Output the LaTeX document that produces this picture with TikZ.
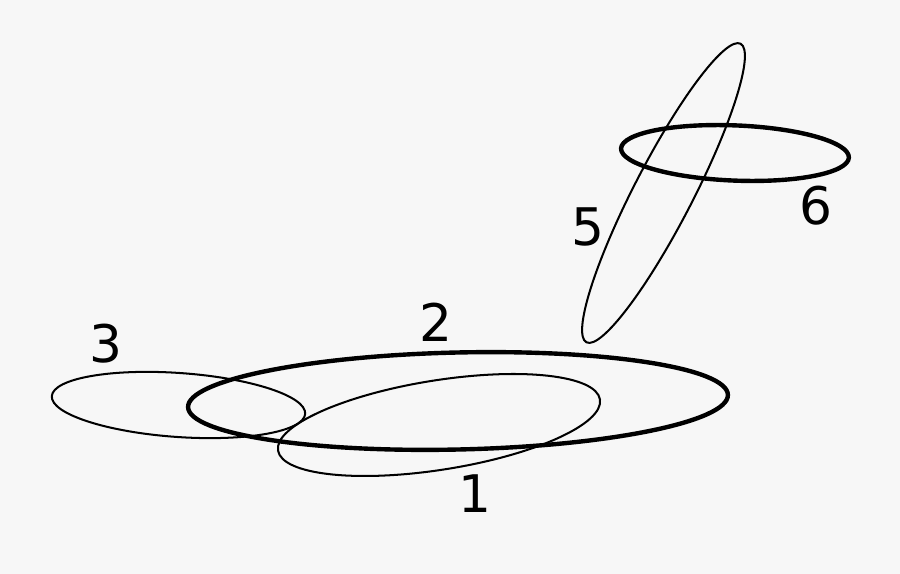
\documentclass[tikz,border=0pt]{standalone}
\usepackage{fontspec}
\setmainfont{DejaVu Sans}
\usepackage{tikz}
\usetikzlibrary{calc,positioning}

\definecolor{bgpaper}{HTML}{F7F7F7}

\begin{document}
\begin{tikzpicture}[line cap=round,line join=round,x=0.02cm,y=0.02cm,
  thinring/.style={draw=black,line width=1.15pt},
  thickring/.style={draw=black,line width=2.5pt},
  lbl/.style={inner sep=0pt,font=\fontsize{29.5}{30}\selectfont}]
\fill[bgpaper] (0,0) rectangle (900,574);
\useasboundingbox (0,0) rectangle (900,574);
% centres of the rings
\coordinate (c1) at (439,149);
\coordinate (c2) at (458,173);
\coordinate (c3) at (178.5,169);
\coordinate (c5) at (663.5,381);
\coordinate (c6) at (735,421);
% rings
\draw[thinring, rotate around={-4:(c3)}] (c3) ellipse [x radius=127, y radius=32];
\draw[thinring, rotate around={9:(c1)}] (c1) ellipse [x radius=163, y radius=44.7];
\draw[thickring, rotate around={1.3:(c2)}] (c2) ellipse [x radius=270, y radius=48.5];
\draw[thinring, rotate around={62.7:(c5)}] (c5) ellipse [x radius=168, y radius=29.5];
\draw[thickring, rotate around={-2.3:(c6)}] (c6) ellipse [x radius=114, y radius=27.6];
% labels
\node[lbl] (l1) at (475,80) {1};
\node[lbl] (l2) at (436,252) {2};
\node[lbl] (l3) at (106,230) {3};
\node[lbl] (l5) at (588,347) {5};
\node[lbl] (l6) at (816,368) {6};
\end{tikzpicture}
\end{document}
